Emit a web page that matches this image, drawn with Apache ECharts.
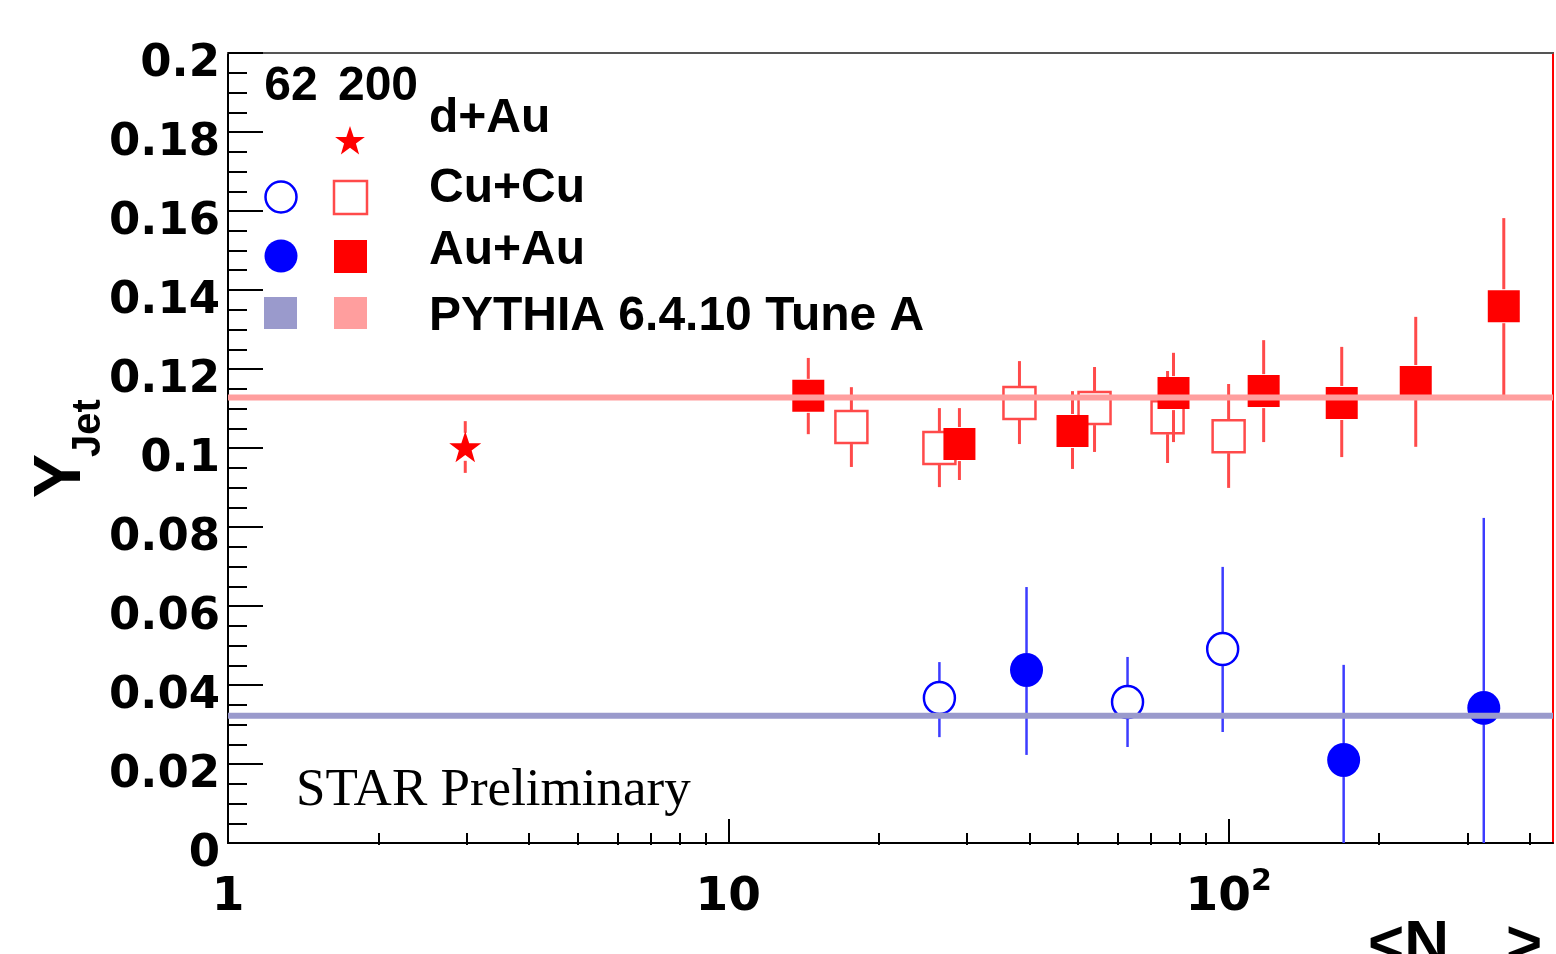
<!DOCTYPE html>
<html>
<head>
<meta charset="utf-8">
<script src="https://cdn.jsdelivr.net/npm/echarts@6/dist/echarts.min.js"></script>
<style>
    html, body { margin: 0; padding: 0; background: #fff; }
    #chart { width: 1556px; height: 954px; }
</style>
</head>
<body>
<div id="chart"></div>
<script>
// <N_part> positions and Y_Jet values
const xMin = 1;
const xMax = 445;
const xLabelValues = [1, 10, 100];
const xMajorTicks = [10, 100];
const xMinorTicks = [2, 3, 4, 5, 6, 7, 8, 9, 20, 30, 40, 50, 60, 70, 80, 90, 200, 300, 400];

// Au+Au 200 GeV (filled red squares)
const auau200X = [14.45, 28.97, 48.75, 77.6, 117.5, 168.3, 236.6, 354.8];
const auau200Y = [0.1132, 0.101, 0.1043, 0.1139, 0.1144, 0.1114, 0.1167, 0.1359];
const auau200Lo = [0.1035, 0.0919, 0.0947, 0.1015, 0.1015, 0.0977, 0.1003, 0.1132];
const auau200Hi = [0.1228, 0.1101, 0.1144, 0.1241, 0.1273, 0.1256, 0.1332, 0.1582];

// Cu+Cu 200 GeV (open red squares)
const cucu200X = [17.62, 26.42, 38.19, 53.95, 75.5, 100];
const cucu200Y = [0.1053, 0.1, 0.1114, 0.1101, 0.1078, 0.103];
const cucu200Lo = [0.0952, 0.0901, 0.101, 0.099, 0.0962, 0.0899];
const cucu200Hi = [0.1154, 0.1101, 0.122, 0.1205, 0.1195, 0.1162];

// Cu+Cu 62 GeV (open blue circles)
const cucu62X = [26.42, 62.8, 97.3];
const cucu62Y = [0.0367, 0.0357, 0.0491];
const cucu62Lo = [0.0268, 0.0243, 0.0281];
const cucu62Hi = [0.0458, 0.0471, 0.0699];

// Au+Au 62 GeV (filled blue circles)
const auau62X = [39.45, 169.8, 323.6];
const auau62Y = [0.0438, 0.021, 0.0342];
const auau62Lo = [0.0223, -0.003, -0.014];
const auau62Hi = [0.0648, 0.0451, 0.0823];

// d+Au 200 GeV (red star)
const dauX = [2.98];
const dauY = [0.1003];
const dauLo = [0.0937];
const dauHi = [0.1068];

// PYTHIA 6.4.10 Tune A
const pythia200 = 0.1128;
const pythia62 = 0.0322;

const RED = '#ff0000';
const RED_ERR = '#ff4a4a';
const BLUE = '#0000ff';
const BLUE_ERR = '#3c3cff';
const PINK = '#ff9e9e';
const LAVENDER = '#9a9acc';

// 5-point star outline on a 100x100 box
const STAR_PTS = [[50, 0], [61.8, 35.1], [98, 35.1], [69.1, 56.7], [79.4, 92], [50, 70.5], [20.6, 92], [30.9, 56.7], [2, 35.1], [38.2, 35.1]];
const STAR = 'path://M' + STAR_PTS.map((p) => p.join(',')).join(' L') + ' Z';

const AXIS_FONT = 'DejaVu Sans';
const TEXT_FONT = 'Liberation Sans';

function points(xs, ys) {
    return xs.map((x, i) => [x, ys[i]]);
}

function errPoints(xs, ys, lo, hi) {
    return xs.map((x, i) => [x, ys[i], lo[i], hi[i]]);
}

function errorBars(name, data, color, width, gap) {
    return {
        name: name,
        type: 'custom',
        clip: true,
        silent: true,
        encode: { x: 0, y: 1 },
        data: data,
        renderItem: function (params, api) {
            const c = api.coord([api.value(0), api.value(1)]);
            const lo = api.coord([api.value(0), api.value(2)]);
            const hi = api.coord([api.value(0), api.value(3)]);
            const children = [];
            if (c[1] - gap > hi[1]) {
                children.push({
                    type: 'line',
                    shape: { x1: c[0], y1: hi[1], x2: c[0], y2: c[1] - gap },
                    style: { stroke: color, lineWidth: width },
                });
            }
            if (lo[1] > c[1] + gap) {
                children.push({
                    type: 'line',
                    shape: { x1: c[0], y1: c[1] + gap, x2: c[0], y2: lo[1] },
                    style: { stroke: color, lineWidth: width },
                });
            }
            return { type: 'group', children: children };
        },
    };
}

function xLabel(v) {
    if (v === 100) {
        return '{b|10}{sup|2}';
    }
    return '{b|' + v + '}';
}

// labels sit a little below their tick, as in the original plot
function yLabel(v) {
    return '{v|' + String(+v.toFixed(2)) + '}';
}

function legendText(text, x, y) {
    return {
        type: 'text',
        x: x,
        y: y,
        style: {
            text: text,
            fill: '#000',
            font: 'bold 48px "' + TEXT_FONT + '"',
            align: 'left',
            verticalAlign: 'middle',
        },
    };
}

// legend star: centre (350, 141), about 31 px across
const legendStar = STAR_PTS.map((p) => [334.5 + p[0] * 0.31, 126 + p[1] * 0.31]);

const chart = echarts.init(document.getElementById('chart'), null, { renderer: 'canvas' });

const option = {
    animation: false,
    backgroundColor: '#fff',
    grid: {
        left: 228,
        right: 3,
        top: 53,
        bottom: 111,
        show: true,
        borderColor: RED,
        borderWidth: 2,
        containLabel: false,
        outerBoundsMode: 'none',
    },
    xAxis: [
        {
            type: 'log',
            logBase: 10,
            min: xMin,
            max: xMax,
            position: 'bottom',
            offset: 2,
            splitLine: { show: false },
            axisLine: { show: true, lineStyle: { color: '#000', width: 2 } },
            axisTick: {
                show: true,
                inside: true,
                length: 24,
                customValues: xMajorTicks,
                lineStyle: { color: '#000', width: 2 },
            },
            minorTick: { show: false },
            axisLabel: {
                show: true,
                customValues: xLabelValues,
                margin: 22,
                formatter: xLabel,
                rich: {
                    b: {
                        fontFamily: AXIS_FONT,
                        fontWeight: 'bold',
                        fontSize: 47,
                        lineHeight: 47,
                        color: '#000',
                        padding: [14, 0, 0, 0],
                    },
                    sup: {
                        fontFamily: AXIS_FONT,
                        fontWeight: 'bold',
                        fontSize: 30,
                        lineHeight: 30,
                        color: '#000',
                        verticalAlign: 'top',
                    },
                },
            },
        },
        {
            type: 'log',
            logBase: 10,
            min: xMin,
            max: xMax,
            position: 'bottom',
            offset: 2,
            splitLine: { show: false },
            axisLine: { show: false },
            axisTick: {
                show: true,
                inside: true,
                length: 12,
                customValues: xMinorTicks,
                lineStyle: { color: '#000', width: 2 },
            },
            axisLabel: { show: false },
        },
        {
            type: 'value',
            min: 0,
            max: 1,
            position: 'top',
            splitLine: { show: false },
            axisLine: { show: true, lineStyle: { color: '#555', width: 2 } },
            axisTick: { show: false },
            axisLabel: { show: false },
        },
    ],
    yAxis: {
        type: 'value',
        min: 0,
        max: 0.2,
        interval: 0.02,
        splitLine: { show: false },
        axisLine: { show: true, lineStyle: { color: '#000', width: 2 } },
        axisTick: { show: true, inside: true, length: 35, lineStyle: { color: '#000', width: 2 } },
        minorTick: { show: true, splitNumber: 4, length: 19, lineStyle: { color: '#000', width: 2 } },
        axisLabel: {
            margin: 8,
            formatter: yLabel,
            rich: {
                v: {
                    fontFamily: AXIS_FONT,
                    fontWeight: 'bold',
                    fontSize: 45,
                    lineHeight: 45,
                    color: '#000',
                    padding: [22, 0, 0, 0],
                },
            },
        },
    },
    graphic: [
        { type: 'text', x: 291, y: 87, style: { text: '62', fill: '#000', font: 'bold 48px "' + TEXT_FONT + '"', align: 'center', verticalAlign: 'middle' } },
        { type: 'text', x: 378, y: 87, style: { text: '200', fill: '#000', font: 'bold 48px "' + TEXT_FONT + '"', align: 'center', verticalAlign: 'middle' } },
        legendText('d+Au', 429, 119),
        legendText('Cu+Cu', 429, 189),
        legendText('Au+Au', 429, 251),
        legendText('PYTHIA 6.4.10 Tune A', 429, 317),
        { type: 'polygon', shape: { points: legendStar }, style: { fill: RED } },
        { type: 'circle', shape: { cx: 281, cy: 197, r: 15.5 }, style: { fill: 'transparent', stroke: BLUE, lineWidth: 2.5 } },
        { type: 'rect', shape: { x: 334, y: 181, width: 33, height: 33 }, style: { fill: 'transparent', stroke: '#ff4a4a', lineWidth: 2.5 } },
        { type: 'circle', shape: { cx: 281, cy: 256, r: 16.5 }, style: { fill: BLUE } },
        { type: 'rect', shape: { x: 334, y: 240, width: 33, height: 33 }, style: { fill: RED } },
        { type: 'rect', shape: { x: 264, y: 297, width: 33, height: 32 }, style: { fill: LAVENDER } },
        { type: 'rect', shape: { x: 334, y: 297, width: 33, height: 32 }, style: { fill: PINK } },
        {
            type: 'text',
            x: 296,
            y: 791,
            style: { text: 'STAR Preliminary', fill: '#000', font: '53px "Liberation Serif"', align: 'left', verticalAlign: 'middle' },
        },
        {
            type: 'text',
            x: 62,
            y: 476,
            rotation: Math.PI / 2,
            style: { text: 'Y', fill: '#000', font: 'bold 66px "' + TEXT_FONT + '"', align: 'center', verticalAlign: 'middle' },
        },
        {
            type: 'text',
            x: 89,
            y: 428,
            rotation: Math.PI / 2,
            style: { text: 'Jet', fill: '#000', font: 'bold 40px "' + TEXT_FONT + '"', align: 'center', verticalAlign: 'middle' },
        },
        { type: 'text', x: 1368, y: 946, style: { text: '<N', fill: '#000', font: 'bold 62px "' + TEXT_FONT + '"', align: 'left', verticalAlign: 'middle' } },
        { type: 'text', x: 1450, y: 980, style: { text: 'part', fill: '#000', font: 'bold 40px "' + TEXT_FONT + '"', align: 'left', verticalAlign: 'middle' } },
        { type: 'text', x: 1506, y: 946, style: { text: '>', fill: '#000', font: 'bold 62px "' + TEXT_FONT + '"', align: 'left', verticalAlign: 'middle' } },
    ],
    series: [
        {
            name: 'PYTHIA 200',
            type: 'line',
            silent: true,
            symbol: 'none',
            data: [[xMin, pythia200], [xMax, pythia200]],
            lineStyle: { color: PINK, width: 6 },
        },
        {
            name: 'PYTHIA 62',
            type: 'line',
            silent: true,
            symbol: 'none',
            data: [[xMin, pythia62], [xMax, pythia62]],
            lineStyle: { color: LAVENDER, width: 6 },
        },
        errorBars('Cu+Cu 200 err', errPoints(cucu200X, cucu200Y, cucu200Lo, cucu200Hi), RED_ERR, 3, 17),
        errorBars('Au+Au 200 err', errPoints(auau200X, auau200Y, auau200Lo, auau200Hi), RED_ERR, 3, 17),
        errorBars('d+Au err', errPoints(dauX, dauY, dauLo, dauHi), RED_ERR, 3, 14),
        errorBars('Cu+Cu 62 err', errPoints(cucu62X, cucu62Y, cucu62Lo, cucu62Hi), BLUE_ERR, 2.5, 17),
        errorBars('Au+Au 62 err', errPoints(auau62X, auau62Y, auau62Lo, auau62Hi), BLUE_ERR, 2.5, 17),
        {
            name: 'Cu+Cu 200',
            type: 'scatter',
            symbol: 'rect',
            symbolSize: 32,
            data: points(cucu200X, cucu200Y),
            itemStyle: { color: 'rgba(0,0,0,0)', borderColor: '#ff4a4a', borderWidth: 2.5, opacity: 1 },
        },
        {
            name: 'Cu+Cu 62',
            type: 'scatter',
            symbol: 'circle',
            symbolSize: [31, 32],
            data: points(cucu62X, cucu62Y),
            itemStyle: { color: 'rgba(0,0,0,0)', borderColor: BLUE, borderWidth: 2.5, opacity: 1 },
        },
        {
            name: 'Au+Au 200',
            type: 'scatter',
            symbol: 'rect',
            symbolSize: 32,
            data: points(auau200X, auau200Y),
            itemStyle: { color: RED, opacity: 1 },
        },
        {
            name: 'Au+Au 62',
            type: 'scatter',
            symbol: 'circle',
            symbolSize: [33, 34],
            data: points(auau62X, auau62Y),
            itemStyle: { color: BLUE, opacity: 1 },
        },
        {
            name: 'd+Au',
            type: 'scatter',
            symbol: STAR,
            symbolSize: [32, 31],
            data: points(dauX, dauY),
            itemStyle: { color: RED, opacity: 1 },
        },
    ],
};

chart.setOption(option);
</script>
</body>
</html>
